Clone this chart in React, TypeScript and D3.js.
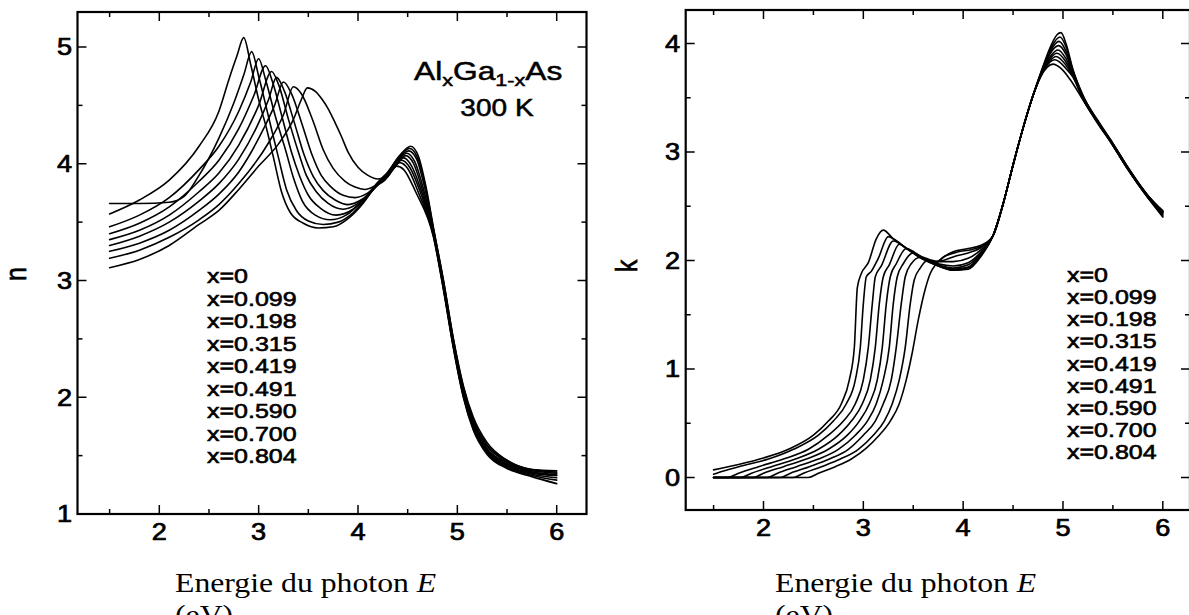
import React from "react";
import * as d3 from "d3";

type P = [number, number];

const compositions = ["x=0", "x=0.099", "x=0.198", "x=0.315", "x=0.419", "x=0.491", "x=0.590", "x=0.700", "x=0.804"];
const xTickValues = [2, 3, 4, 5, 6];
const nTickValues = [1, 2, 3, 4, 5];
const kTickValues = [0, 1, 2, 3, 4];

// refractive index n(E)
const n_x0: P[] = [[1.5,3.57],[1.8,3.69],[2.1,3.86],[2.4,4.15],[2.6,4.45],[2.7,4.72],[2.78,4.92],[2.85,5.08],[2.92,4.85],[3.0,4.55],[3.08,4.3],[3.15,4.05],[3.23,3.76],[3.32,3.58],[3.45,3.49],[3.6,3.45],[3.75,3.46],[3.9,3.53],[4.05,3.66],[4.2,3.84],[4.3,3.93],[4.42,4.07],[4.53,4.15],[4.61,4.06],[4.68,3.82],[4.76,3.45],[4.86,3.0],[4.96,2.5],[5.06,2.1],[5.16,1.83],[5.3,1.61],[5.5,1.46],[5.75,1.38],[6.0,1.36]];
const n_x099: P[] = [[1.5,3.66],[1.8,3.66],[2.1,3.67],[2.25,3.72],[2.4,3.9],[2.6,4.22],[2.75,4.52],[2.85,4.76],[2.93,4.96],[3.0,4.75],[3.1,4.4],[3.2,4.05],[3.28,3.78],[3.38,3.6],[3.5,3.51],[3.65,3.48],[3.8,3.5],[3.95,3.58],[4.1,3.72],[4.22,3.85],[4.3,3.92],[4.41,4.06],[4.52,4.13],[4.6,4.05],[4.68,3.8],[4.76,3.44],[4.86,3.0],[4.96,2.5],[5.06,2.09],[5.16,1.81],[5.3,1.59],[5.5,1.46],[5.75,1.38],[6.0,1.37]];
const n_x198: P[] = [[1.5,3.46],[1.8,3.56],[2.1,3.71],[2.4,3.95],[2.6,4.15],[2.8,4.45],[2.92,4.7],[3.0,4.9],[3.07,4.72],[3.17,4.4],[3.27,4.12],[3.35,3.88],[3.44,3.68],[3.57,3.56],[3.72,3.52],[3.88,3.56],[4.05,3.69],[4.2,3.84],[4.3,3.92],[4.4,4.04],[4.51,4.11],[4.59,4.04],[4.67,3.8],[4.76,3.43],[4.86,2.98],[4.96,2.48],[5.06,2.07],[5.16,1.79],[5.3,1.58],[5.5,1.45],[5.75,1.37],[6.0,1.35]];
const n_x315: P[] = [[1.5,3.40],[1.8,3.49],[2.1,3.63],[2.4,3.85],[2.6,4.03],[2.8,4.30],[2.95,4.58],[3.07,4.84],[3.14,4.7],[3.23,4.42],[3.33,4.1],[3.41,3.9],[3.5,3.73],[3.62,3.62],[3.78,3.56],[3.95,3.61],[4.1,3.73],[4.22,3.85],[4.3,3.91],[4.39,4.02],[4.49,4.09],[4.57,4.02],[4.66,3.78],[4.76,3.42],[4.86,2.97],[4.96,2.47],[5.06,2.05],[5.16,1.77],[5.3,1.56],[5.5,1.44],[5.75,1.36],[6.0,1.34]];
const n_x419: P[] = [[1.5,3.35],[1.8,3.43],[2.1,3.56],[2.4,3.76],[2.6,3.92],[2.8,4.16],[3.0,4.5],[3.13,4.79],[3.2,4.68],[3.3,4.38],[3.4,4.1],[3.48,3.9],[3.58,3.76],[3.7,3.66],[3.85,3.61],[4.0,3.66],[4.13,3.76],[4.23,3.85],[4.3,3.9],[4.38,4.0],[4.48,4.07],[4.56,4.0],[4.65,3.77],[4.76,3.41],[4.86,2.96],[4.96,2.46],[5.06,2.04],[5.16,1.76],[5.3,1.55],[5.5,1.43],[5.75,1.36],[6.0,1.33]];
const n_x491: P[] = [[1.5,3.30],[1.8,3.38],[2.1,3.50],[2.4,3.68],[2.6,3.83],[2.8,4.04],[3.0,4.35],[3.1,4.55],[3.18,4.74],[3.26,4.62],[3.36,4.35],[3.46,4.07],[3.55,3.89],[3.65,3.77],[3.77,3.69],[3.9,3.65],[4.05,3.7],[4.17,3.79],[4.25,3.86],[4.3,3.89],[4.37,3.98],[4.46,4.05],[4.54,3.98],[4.64,3.76],[4.76,3.4],[4.86,2.95],[4.96,2.45],[5.06,2.03],[5.16,1.75],[5.3,1.54],[5.5,1.42],[5.75,1.35],[6.0,1.33]];
const n_x590: P[] = [[1.5,3.25],[1.8,3.32],[2.1,3.43],[2.4,3.60],[2.6,3.74],[2.8,3.93],[3.05,4.30],[3.16,4.5],[3.25,4.70],[3.33,4.6],[3.44,4.33],[3.54,4.07],[3.63,3.9],[3.73,3.8],[3.85,3.73],[3.97,3.71],[4.1,3.75],[4.2,3.82],[4.3,3.89],[4.36,3.96],[4.44,4.03],[4.52,3.97],[4.63,3.75],[4.76,3.39],[4.86,2.94],[4.96,2.44],[5.06,2.02],[5.16,1.74],[5.3,1.53],[5.5,1.41],[5.75,1.34],[6.0,1.31]];
const n_x700: P[] = [[1.5,3.19],[1.8,3.26],[2.1,3.37],[2.4,3.52],[2.6,3.65],[2.8,3.83],[3.1,4.18],[3.25,4.42],[3.35,4.66],[3.43,4.6],[3.55,4.36],[3.65,4.12],[3.75,3.96],[3.87,3.85],[3.97,3.8],[4.07,3.78],[4.17,3.81],[4.27,3.86],[4.34,3.94],[4.42,4.01],[4.5,3.96],[4.61,3.75],[4.76,3.38],[4.86,2.93],[4.96,2.43],[5.06,2.01],[5.16,1.73],[5.3,1.52],[5.5,1.4],[5.75,1.33],[6.0,1.29]];
const n_x804: P[] = [[1.5,3.11],[1.8,3.18],[2.1,3.30],[2.4,3.48],[2.6,3.60],[2.8,3.78],[3.0,3.98],[3.2,4.17],[3.35,4.38],[3.43,4.55],[3.49,4.65],[3.57,4.62],[3.64,4.55],[3.7,4.47],[3.77,4.35],[3.83,4.24],[3.9,4.1],[4.0,3.97],[4.1,3.9],[4.2,3.87],[4.27,3.88],[4.33,3.93],[4.39,3.98],[4.46,3.95],[4.58,3.76],[4.76,3.37],[4.86,2.92],[4.96,2.42],[5.06,2.0],[5.16,1.72],[5.3,1.51],[5.5,1.39],[5.75,1.32],[6.0,1.26]];

// extinction coefficient k(E)
const k_x0: P[] = [[1.5,0.07],[1.75,0.12],[2.0,0.18],[2.25,0.26],[2.5,0.39],[2.65,0.52],[2.78,0.68],[2.86,0.9],[2.91,1.2],[2.94,1.75],[2.98,1.88],[3.05,1.98],[3.13,2.2],[3.2,2.28],[3.3,2.2],[3.45,2.1],[3.6,2.01],[3.75,1.95],[3.9,1.91],[4.05,1.92],[4.18,2.04],[4.3,2.23],[4.4,2.52],[4.5,2.88],[4.6,3.22],[4.7,3.52],[4.8,3.79],[4.88,3.98],[4.94,4.08],[4.98,4.10],[5.03,4.0],[5.1,3.76],[5.2,3.52],[5.35,3.29],[5.5,3.08],[5.65,2.86],[5.85,2.6],[6.0,2.46]];
const k_x099: P[] = [[1.5,0.03],[1.6,0.06],[1.8,0.11],[2.05,0.17],[2.3,0.26],[2.55,0.39],[2.7,0.52],[2.83,0.68],[2.92,0.9],[2.97,1.2],[3.0,1.6],[3.03,1.85],[3.08,1.9],[3.15,2.02],[3.25,2.22],[3.3,2.2],[3.45,2.1],[3.6,2.01],[3.75,1.95],[3.9,1.91],[4.05,1.93],[4.18,2.05],[4.3,2.23],[4.4,2.52],[4.5,2.88],[4.6,3.22],[4.7,3.52],[4.8,3.78],[4.88,3.96],[4.97,4.06],[5.03,3.97],[5.1,3.75],[5.2,3.52],[5.35,3.28],[5.5,3.08],[5.65,2.86],[5.85,2.6],[6.0,2.45]];
const k_x198: P[] = [[1.5,0],[1.64,0],[1.75,0.04],[1.95,0.1],[2.2,0.17],[2.45,0.26],[2.65,0.39],[2.8,0.52],[2.92,0.68],[3.0,0.9],[3.05,1.2],[3.09,1.6],[3.12,1.85],[3.18,1.95],[3.3,2.18],[3.45,2.1],[3.6,2.02],[3.75,1.96],[3.9,1.92],[4.05,1.94],[4.18,2.06],[4.3,2.23],[4.4,2.52],[4.5,2.88],[4.6,3.22],[4.7,3.52],[4.8,3.77],[4.88,3.94],[4.96,4.02],[5.03,3.93],[5.1,3.74],[5.2,3.51],[5.35,3.28],[5.5,3.07],[5.65,2.85],[5.85,2.6],[6.0,2.45]];
const k_x315: P[] = [[1.5,0],[1.77,0],[1.88,0.04],[2.08,0.1],[2.32,0.17],[2.55,0.26],[2.75,0.39],[2.88,0.52],[2.99,0.68],[3.07,0.9],[3.12,1.2],[3.16,1.6],[3.2,1.85],[3.26,1.96],[3.36,2.15],[3.45,2.1],[3.6,2.02],[3.75,1.96],[3.9,1.93],[4.05,1.96],[4.18,2.07],[4.3,2.23],[4.4,2.52],[4.5,2.88],[4.6,3.22],[4.7,3.52],[4.8,3.77],[4.88,3.92],[4.955,3.98],[5.03,3.9],[5.1,3.73],[5.2,3.51],[5.35,3.28],[5.5,3.07],[5.65,2.85],[5.85,2.59],[6.0,2.44]];
const k_x419: P[] = [[1.5,0],[1.9,0],[2.0,0.04],[2.2,0.1],[2.43,0.17],[2.65,0.26],[2.84,0.39],[2.96,0.52],[3.06,0.68],[3.14,0.9],[3.19,1.2],[3.23,1.6],[3.27,1.85],[3.33,1.97],[3.43,2.11],[3.6,2.02],[3.75,1.97],[3.9,1.95],[4.05,1.98],[4.18,2.08],[4.3,2.23],[4.4,2.52],[4.5,2.88],[4.6,3.22],[4.7,3.52],[4.8,3.76],[4.88,3.89],[4.95,3.94],[5.03,3.86],[5.1,3.72],[5.2,3.5],[5.35,3.28],[5.5,3.07],[5.65,2.85],[5.85,2.59],[6.0,2.44]];
const k_x491: P[] = [[1.5,0],[2.04,0],[2.14,0.04],[2.33,0.1],[2.55,0.17],[2.75,0.26],[2.92,0.39],[3.04,0.52],[3.13,0.68],[3.2,0.9],[3.26,1.2],[3.3,1.6],[3.34,1.85],[3.4,1.97],[3.5,2.07],[3.6,2.03],[3.75,1.99],[3.9,1.99],[4.05,2.02],[4.18,2.1],[4.3,2.23],[4.4,2.52],[4.5,2.88],[4.6,3.22],[4.7,3.52],[4.8,3.75],[4.87,3.86],[4.94,3.91],[5.03,3.83],[5.1,3.71],[5.2,3.5],[5.35,3.27],[5.5,3.07],[5.65,2.85],[5.85,2.59],[6.0,2.43]];
const k_x590: P[] = [[1.5,0],[2.17,0],[2.27,0.04],[2.46,0.1],[2.66,0.17],[2.85,0.26],[3.0,0.39],[3.12,0.52],[3.2,0.68],[3.28,0.9],[3.33,1.2],[3.38,1.6],[3.42,1.85],[3.48,1.97],[3.57,2.03],[3.7,1.99],[3.8,2.0],[3.92,2.04],[4.05,2.07],[4.18,2.12],[4.3,2.23],[4.4,2.52],[4.5,2.88],[4.6,3.22],[4.7,3.52],[4.8,3.74],[4.87,3.84],[4.93,3.88],[5.03,3.8],[5.1,3.7],[5.2,3.49],[5.35,3.27],[5.5,3.06],[5.65,2.84],[5.85,2.58],[6.0,2.42]];
const k_x700: P[] = [[1.5,0],[2.3,0],[2.4,0.04],[2.58,0.1],[2.77,0.17],[2.95,0.26],[3.1,0.39],[3.21,0.52],[3.29,0.68],[3.36,0.9],[3.42,1.2],[3.47,1.6],[3.51,1.82],[3.57,1.93],[3.64,2.0],[3.72,1.98],[3.82,2.04],[3.95,2.08],[4.08,2.1],[4.2,2.14],[4.3,2.23],[4.4,2.52],[4.5,2.88],[4.6,3.22],[4.7,3.52],[4.78,3.71],[4.85,3.81],[4.92,3.85],[5.03,3.77],[5.1,3.69],[5.2,3.49],[5.35,3.27],[5.5,3.06],[5.65,2.84],[5.85,2.58],[6.0,2.41]];
const k_x804: P[] = [[1.5,0],[2.45,0],[2.55,0.04],[2.72,0.1],[2.88,0.17],[3.03,0.27],[3.15,0.38],[3.27,0.52],[3.36,0.68],[3.43,0.9],[3.49,1.15],[3.55,1.45],[3.61,1.7],[3.67,1.88],[3.73,1.97],[3.8,2.03],[3.9,2.08],[4.05,2.11],[4.18,2.14],[4.3,2.23],[4.4,2.52],[4.5,2.88],[4.6,3.22],[4.7,3.52],[4.78,3.7],[4.84,3.78],[4.9,3.81],[4.98,3.77],[5.07,3.67],[5.2,3.48],[5.35,3.26],[5.5,3.06],[5.65,2.84],[5.85,2.58],[6.0,2.40]];

const nSeries = [n_x0, n_x099, n_x198, n_x315, n_x419, n_x491, n_x590, n_x700, n_x804];
const kSeries = [k_x0, k_x099, k_x198, k_x315, k_x419, k_x491, k_x590, k_x700, k_x804];

const SANS = "'Liberation Sans', Arial, Helvetica, sans-serif";
const SERIF = "'Liberation Serif', 'Times New Roman', Times, serif";

type PanelProps = {
  frame: { x0: number; x1: number; y0: number; y1: number };
  xs: d3.ScaleLinear<number, number>;
  ys: d3.ScaleLinear<number, number>;
  yTicks: number[];
  series: P[][];
  legendX: number;
  legendY0: number;
  legendDy: number;
  yLabel: string;
  yLabelX: number;
  yLabelY: number;
  yTickRight: number;
  xLabelBase: number;
};

function Panel(p: PanelProps) {
  const { frame, xs, ys } = p;
  const line = d3
    .line<P>()
    .x((d) => xs(d[0]))
    .y((d) => ys(d[1]))
    .curve(d3.curveMonotoneX);

  const [xd0, xd1] = [xs.invert(frame.x0), xs.invert(frame.x1)];
  const [yd0, yd1] = [ys.invert(frame.y1), ys.invert(frame.y0)];
  const xMinor = d3.range(Math.ceil(xd0 * 2) / 2, xd1, 0.5).filter((v) => Math.abs(v - Math.round(v)) > 0.01);
  const yMinor = d3.range(Math.ceil(yd0 * 2) / 2, yd1, 0.5).filter((v) => Math.abs(v - Math.round(v)) > 0.01);
  const xMajor = d3.range(Math.ceil(xd0), xd1 + 1e-9, 1);
  const yMajor = d3.range(Math.ceil(yd0), yd1 + 1e-9, 1);
  const M = 9;
  const m = 5;

  const ticks: JSX.Element[] = [];
  xMajor.forEach((v, i) => {
    const x = xs(v);
    ticks.push(<line key={`xb${i}`} x1={x} x2={x} y1={frame.y1} y2={frame.y1 - M} />);
    ticks.push(<line key={`xt${i}`} x1={x} x2={x} y1={frame.y0} y2={frame.y0 + M} />);
  });
  xMinor.forEach((v, i) => {
    const x = xs(v);
    ticks.push(<line key={`xbm${i}`} x1={x} x2={x} y1={frame.y1} y2={frame.y1 - m} />);
    ticks.push(<line key={`xtm${i}`} x1={x} x2={x} y1={frame.y0} y2={frame.y0 + m} />);
  });
  yMajor.forEach((v, i) => {
    const y = ys(v);
    ticks.push(<line key={`yl${i}`} x1={frame.x0} x2={frame.x0 + M} y1={y} y2={y} />);
    ticks.push(<line key={`yr${i}`} x1={frame.x1} x2={frame.x1 - M} y1={y} y2={y} />);
  });
  yMinor.forEach((v, i) => {
    const y = ys(v);
    ticks.push(<line key={`ylm${i}`} x1={frame.x0} x2={frame.x0 + m} y1={y} y2={y} />);
    ticks.push(<line key={`yrm${i}`} x1={frame.x1} x2={frame.x1 - m} y1={y} y2={y} />);
  });

  return (
    <g>
      <g stroke="#000" strokeWidth={1.5}>{ticks}</g>
      <rect
        x={frame.x0}
        y={frame.y0}
        width={frame.x1 - frame.x0}
        height={frame.y1 - frame.y0}
        fill="none"
        stroke="#000"
        strokeWidth={2.2}
      />
      <g fill="none" stroke="#000" strokeWidth={1.6} strokeLinejoin="round" strokeLinecap="round">
        {p.series.map((s, i) => (
          <path key={i} d={line(s) || ""} />
        ))}
      </g>
      <g fontFamily={SANS} fontSize={23} fill="#000" stroke="#000" strokeWidth={0.7}>
        {xTickValues.map((v) => (
          <text key={`xl${v}`} transform={`translate(${xs(v)},${p.xLabelBase}) scale(1.18,1)`} textAnchor="middle">
            {v}
          </text>
        ))}
        {p.yTicks.map((v) => (
          <text key={`yl${v}`} transform={`translate(${p.yTickRight},${ys(v) + 8.3}) scale(1.18,1)`} textAnchor="end">
            {v}
          </text>
        ))}
      </g>
      <text
        transform={`translate(${p.yLabelX},${p.yLabelY}) scale(1.2,1) rotate(-90)`}
        textAnchor="middle"
        fontFamily={SANS}
        fontSize={25}
        fill="#000"
        stroke="#000"
        strokeWidth={0.6}
      >
        {p.yLabel}
      </text>
      <g fontFamily={SANS} fontSize={20.5} fill="#000" stroke="#000" strokeWidth={0.6}>
        {compositions.map((c, i) => (
          <text key={c} transform={`translate(${p.legendX},${p.legendY0 + i * p.legendDy}) scale(1.22,1)`}>
            {c}
          </text>
        ))}
      </g>
    </g>
  );
}

export default function App() {
  const leftFrame = { x0: 77.5, x1: 586.5, y0: 12, y1: 514 };
  const rightFrame = { x0: 685.7, x1: 1190, y0: 10, y1: 510 };
  const xsL = d3.scaleLinear().domain([2, 6]).range([159.3, 556.7]);
  const ysL = d3.scaleLinear().domain([1, 5]).range([514, 47]);
  const xsR = d3.scaleLinear().domain([2, 6]).range([763.5, 1162.8]);
  const ysR = d3.scaleLinear().domain([0, 4]).range([477.5, 43.5]);

  return (
    <svg
      width={1189}
      height={615}
      viewBox="0 0 1189 615"
      style={{ position: "absolute", left: 0, top: 0, background: "#fff" }}
    >
      <rect x={0} y={0} width={1189} height={615} fill="#fff" />
      <Panel
        frame={leftFrame}
        xs={xsL}
        ys={ysL}
        yTicks={nTickValues}
        series={nSeries}
        legendX={207}
        legendY0={283}
        legendDy={22.5}
        yLabel="n"
        yLabelX={26}
        yLabelY={274}
        yTickRight={72}
        xLabelBase={540}
      />
      <Panel
        frame={rightFrame}
        xs={xsR}
        ys={ysR}
        yTicks={kTickValues}
        series={kSeries}
        legendX={1067}
        legendY0={282}
        legendDy={22.15}
        yLabel="k"
        yLabelX={637}
        yLabelY={266}
        yTickRight={680}
        xLabelBase={536}
      />
      <g fontFamily={SANS} fill="#000" stroke="#000" strokeWidth={0.5}>
        <text transform="translate(414,80) scale(1.27,1)" fontSize={25}>
          Al<tspan fontSize={17} dy={6}>x</tspan>
          <tspan dy={-6}>Ga</tspan>
          <tspan fontSize={17} dy={6}>1-x</tspan>
          <tspan dy={-6}>As</tspan>
        </text>
        <text transform="translate(497,116) scale(1.22,1)" fontSize={23} textAnchor="middle">
          300 K
        </text>
      </g>
      <g fontFamily={SERIF} fontSize={28} fill="#000">
        <text transform="translate(175,592) scale(1.134,1)">
          Energie du photon <tspan fontStyle="italic">E</tspan>
        </text>
        <text transform="translate(175,624) scale(1.134,1)">(eV)</text>
        <text transform="translate(775,592) scale(1.134,1)">
          Energie du photon <tspan fontStyle="italic">E</tspan>
        </text>
        <text transform="translate(775,624) scale(1.134,1)">(eV)</text>
      </g>
    </svg>
  );
}
